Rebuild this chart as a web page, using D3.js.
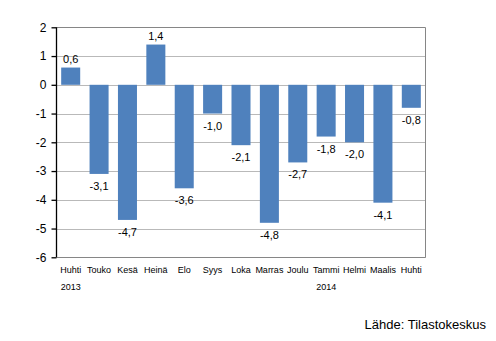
<!DOCTYPE html>
<html><head><meta charset="utf-8">
<script src="https://cdn.jsdelivr.net/npm/d3@7"></script>
<style>body{margin:0;background:#fff}svg{display:block}text{font-family:Arial,"Liberation Sans",sans-serif}</style>
</head><body>
<script>
const months = ["Huhti","Touko","Kesä","Heinä","Elo","Syys","Loka","Marras","Joulu","Tammi","Helmi","Maalis","Huhti"];
const values = [0.6,-3.1,-4.7,1.4,-3.6,-1.0,-2.1,-4.8,-2.7,-1.8,-2.0,-4.1,-0.8];
const yearLabels = [{idx:0,label:"2013"},{idx:9,label:"2014"}];
const yTicks = [2,1,0,-1,-2,-3,-4,-5,-6];
const source = "Lähde: Tilastokeskus";

const W=496,H=341;
const L=56.5,R=425.5,T=27.3,B=257.3;
const svg=d3.select("body").append("svg").attr("width",W).attr("height",H);
const x=d3.scaleBand().domain(d3.range(months.length)).range([L,R]).paddingInner(0.33).paddingOuter(0.165);
const y=d3.scaleLinear().domain([-6,2]).range([B,T]);
const fmt=v=>d3.format(".1f")(v).replace(".",",").replace("−","-");

// gridlines
svg.append("g").selectAll("line").data(yTicks).join("line")
  .attr("x1",L).attr("x2",R).attr("y1",d=>Math.round(y(d))+0.5).attr("y2",d=>Math.round(y(d))+0.5)
  .attr("stroke",d=>d===2?"#868686":"#b9b9b9").attr("stroke-width",1);
// right & bottom border
svg.append("line").attr("x1",R).attr("x2",R).attr("y1",Math.round(T)+0.5).attr("y2",Math.round(B)+0.5).attr("stroke","#868686");
svg.append("line").attr("x1",L).attr("x2",R).attr("y1",Math.round(B)+0.5).attr("y2",Math.round(B)+0.5).attr("stroke","#868686");

// bars
svg.append("g").selectAll("rect").data(values).join("rect")
  .attr("x",(d,i)=>x(i)).attr("width",x.bandwidth())
  .attr("y",d=>y(Math.max(0,d))).attr("height",d=>Math.abs(y(d)-y(0)))
  .attr("fill","#4f81bd");

// y axis
const ax=svg.append("g").attr("transform",`translate(${L},0)`)
  .call(d3.axisLeft(y).tickValues(yTicks).tickSize(5).tickFormat(d=>String(d)));
ax.select(".domain").attr("stroke","#000").attr("stroke-width",1.3).attr("d",`M0,${T}V${B}`);
ax.selectAll(".tick line").attr("stroke","#000").attr("stroke-width",1.3);
ax.selectAll(".tick text").attr("x",-10).attr("font-size",12).attr("fill","#000").attr("font-family","Arial,'Liberation Sans',sans-serif");

// data labels
svg.append("g").selectAll("text").data(values).join("text")
  .attr("x",(d,i)=>x(i)+x.bandwidth()/2)
  .attr("y",d=>d>=0?y(d)-4.5:y(d)+16)
  .attr("text-anchor","middle").attr("font-size",11).attr("fill","#000")
  .text(d=>fmt(d));

// x labels
svg.append("g").selectAll("text").data(months).join("text")
  .attr("x",(d,i)=>x(i)+x.bandwidth()/2).attr("y",272.5)
  .attr("text-anchor","middle").attr("font-size",9).attr("fill","#000").text(d=>d);
svg.append("g").selectAll("text").data(yearLabels).join("text")
  .attr("x",d=>x(d.idx)+x.bandwidth()/2).attr("y",290)
  .attr("text-anchor","middle").attr("font-size",9).attr("fill","#000").text(d=>d.label);

svg.append("text").attr("x",486).attr("y",329).attr("text-anchor","end")
  .attr("font-size",13).attr("fill","#000").text(source);
</script>
</body></html>
